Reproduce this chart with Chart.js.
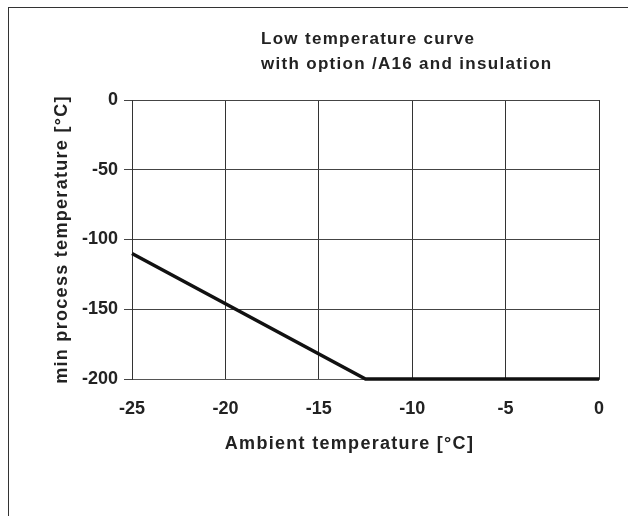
<!DOCTYPE html>
<html lang="en">
<head>
    <meta charset="UTF-8" />
    <title>Low temperature curve</title>
    <script src="https://cdn.jsdelivr.net/npm/chart.js"></script>
    <style>
        body { margin: 0; background: #fff; }
        .wrap { position: relative; width: 628px; height: 516px; overflow: hidden; }
        .frame { position: absolute; left: 8px; top: 7px; width: 700px; height: 600px; border: 1.5px solid #333; }
        canvas { position: absolute; left: 0; top: 0; }
    </style>
</head>
<body>
    <div class="wrap">
        <div class="frame"></div>
        <canvas id="myChart" width="628" height="516"></canvas>
    </div>

    <script>
        const ambient = [-25, -12.5, 0];
        const minProcess = [-110, -200, -200];
        const xTicks = [-25, -20, -15, -10, -5, 0];
        const yTicks = [0, -50, -100, -150, -200];
        const titleLines = ["Low temperature curve", "with option /A16 and insulation"];

        const FONT = "'Liberation Sans', Arial, sans-serif";

        // title drawn left-aligned, like the original
        const titlePlugin = {
            id: "leftTitle",
            beforeDraw(chart) {
                // the axis titles in the original are a bit spaced out
                ["x", "y"].forEach((id) => {
                    const s = chart.scales[id];
                    if (s && !s._spaced) {
                        const orig = s.drawTitle;
                        s.drawTitle = function () {
                            this.ctx.save();
                            this.ctx.letterSpacing = "1.3px";
                            if (id === "x") this.ctx.translate(-16, 0);
                            orig.call(this);
                            this.ctx.restore();
                        };
                        s._spaced = true;
                    }
                });
            },
            afterDraw(chart) {
                const ctx = chart.ctx;
                ctx.save();
                ctx.fillStyle = "#222";
                ctx.font = "bold 17px " + FONT;
                ctx.letterSpacing = "1.3px";
                ctx.textBaseline = "middle";
                ctx.textAlign = "left";
                ctx.fillText(titleLines[0], 261, 39);
                ctx.fillText(titleLines[1], 261, 64);
                ctx.restore();
            }
        };

        const ctx = document.getElementById("myChart").getContext("2d");
        new Chart(ctx, {
            type: "line",
            data: {
                datasets: [{
                    data: ambient.map((x, i) => ({ x: x, y: minProcess[i] })),
                    borderColor: "#111",
                    borderWidth: 3.5,
                    pointRadius: 0,
                    tension: 0,
                    fill: false,
                    clip: false,
                }],
            },
            options: {
                responsive: false,
                animation: false,
                layout: { padding: { left: 50, top: 100, right: 29, bottom: 61 } },
                plugins: {
                    legend: { display: false },
                    tooltip: { enabled: false },
                },
                scales: {
                    x: {
                        type: "linear",
                        min: -25,
                        max: 0,
                        afterBuildTicks: (s) => { s.ticks = xTicks.map(v => ({ value: v })); },
                        afterFit: (s) => { s.height = 76; },
                        grid: { color: "#333", lineWidth: 1, drawTicks: false },
                        border: { color: "#555", width: 1 },
                        ticks: {
                            color: "#222",
                            padding: 19,
                            font: { family: FONT, size: 18, weight: "bold" },
                        },
                        title: {
                            display: true,
                            text: "Ambient temperature [°C]",
                            color: "#222",
                            font: { family: FONT, size: 18, weight: "bold" },
                            padding: { top: 14, bottom: 0 },
                        },
                    },
                    y: {
                        min: -200,
                        max: 0,
                        afterBuildTicks: (s) => { s.ticks = yTicks.map(v => ({ value: v })); },
                        afterFit: (s) => { s.width = 82; },
                        grid: { color: "#444", lineWidth: 1, tickLength: 8 },
                        border: { color: "#333", width: 1 },
                        ticks: {
                            color: "#222",
                            padding: 6,
                            font: { family: FONT, size: 18, weight: "bold" },
                        },
                        title: {
                            display: true,
                            text: "min process temperature [°C]",
                            color: "#222",
                            font: { family: FONT, size: 18, weight: "bold" },
                            padding: { top: 1, bottom: 0 },
                        },
                    },
                },
            },
            plugins: [titlePlugin],
        });
    </script>
</body>
</html>
